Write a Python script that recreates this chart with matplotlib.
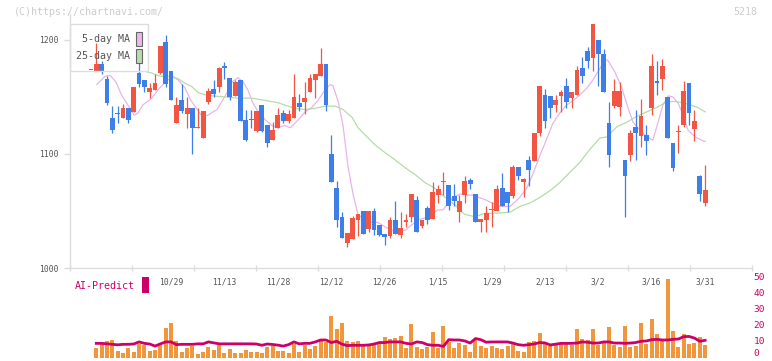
import numpy as np
import matplotlib
matplotlib.use("Agg")
import matplotlib.pyplot as plt
from matplotlib import patches, transforms

# daily prices, oldest first
opens = [1174, 1173, 1179, 1166, 1132, 1136, 1132, 1140, 1137, 1171,
         1165, 1154, 1156, 1171, 1198, 1173, 1127, 1147, 1135, 1140,
         1123, 1114, 1146, 1157, 1159, 1177, 1167, 1151, 1165, 1130,
         1131, 1120, 1143, 1125, 1112, 1123, 1136, 1129, 1132, 1145,
         1146, 1154, 1165, 1168, 1179, 1100, 1070, 1045, 1022, 1025,
         1042, 1050, 1034, 1050, 1038, 1030, 1028, 1042, 1029, 1040,
         1045, 1060, 1037, 1053, 1043, 1064, 1075, 1073, 1063, 1049,
         1064, 1077, 1065, 1040, 1042, 1051, 1050, 1070, 1067, 1063,
         1089, 1075, 1095, 1094, 1118, 1152, 1151, 1143, 1151, 1160,
         1149, 1152, 1175, 1190, 1184, 1200, 1188, 1127, 1142, 1141,
         1095, 1099, 1124, 1116, 1117, 1140, 1164, 1166, 1150, 1110,
         1119, 1125, 1162, 1122, 1081, 1057]
closes = [1174, 1179, 1172, 1145, 1121, 1135, 1140, 1130, 1159, 1161,
          1159, 1158, 1162, 1195, 1161, 1147, 1143, 1138, 1140, 1123,
          1124, 1138, 1155, 1153, 1175, 1175, 1150, 1163, 1129, 1112,
          1130, 1138, 1120, 1110, 1121, 1134, 1129, 1135, 1150, 1141,
          1149, 1167, 1170, 1179, 1143, 1075, 1042, 1026, 1031, 1044,
          1047, 1030, 1050, 1033, 1029, 1027, 1042, 1030, 1035, 1042,
          1065, 1032, 1042, 1042, 1067, 1069, 1076, 1054, 1059, 1059,
          1076, 1074, 1040, 1043, 1048, 1052, 1069, 1054, 1057, 1089,
          1081, 1078, 1086, 1118, 1160, 1129, 1140, 1147, 1154, 1146,
          1154, 1174, 1168, 1182, 1214, 1188, 1154, 1099, 1155, 1155,
          1081, 1118, 1118, 1133, 1111, 1177, 1162, 1177, 1114, 1088,
          1120, 1155, 1136, 1129, 1065, 1068]
highs = [1174, 1197, 1182, 1168, 1142, 1142, 1144, 1140, 1159, 1181,
         1165, 1162, 1170, 1195, 1204, 1173, 1150, 1161, 1150, 1140,
         1140, 1138, 1158, 1165, 1176, 1181, 1167, 1165, 1165, 1139,
         1139, 1138, 1143, 1125, 1128, 1140, 1139, 1139, 1170, 1153,
         1163, 1170, 1170, 1193, 1179, 1117, 1076, 1049, 1031, 1046,
         1047, 1050, 1050, 1053, 1038, 1030, 1045, 1059, 1049, 1047,
         1065, 1063, 1042, 1054, 1075, 1073, 1084, 1073, 1074, 1064,
         1081, 1079, 1065, 1043, 1054, 1058, 1073, 1083, 1067, 1090,
         1089, 1079, 1098, 1118, 1160, 1157, 1151, 1152, 1156, 1167,
         1154, 1177, 1185, 1194, 1214, 1200, 1192, 1146, 1166, 1163,
         1095, 1121, 1139, 1148, 1125, 1188, 1182, 1183, 1150, 1110,
         1125, 1164, 1162, 1139, 1082, 1090]
lows = [1174, 1173, 1170, 1143, 1118, 1127, 1132, 1127, 1137, 1159,
        1154, 1149, 1156, 1170, 1159, 1147, 1127, 1136, 1123, 1100,
        1123, 1114, 1144, 1150, 1154, 1166, 1147, 1151, 1129, 1111,
        1123, 1119, 1119, 1106, 1112, 1123, 1127, 1127, 1132, 1138,
        1135, 1154, 1149, 1168, 1138, 1075, 1036, 1026, 1018, 1025,
        1028, 1030, 1032, 1029, 1028, 1020, 1026, 1030, 1026, 1036,
        1040, 1032, 1035, 1039, 1043, 1057, 1064, 1051, 1054, 1040,
        1057, 1069, 1040, 1032, 1032, 1036, 1050, 1054, 1049, 1061,
        1077, 1062, 1072, 1094, 1116, 1123, 1132, 1137, 1137, 1140,
        1140, 1152, 1162, 1175, 1173, 1160, 1154, 1089, 1140, 1133,
        1045, 1094, 1095, 1106, 1099, 1134, 1152, 1156, 1114, 1085,
        1101, 1124, 1125, 1111, 1059, 1054]

# volume and AI-Predict start on the second day
volume = [6.4, 8.9, 10.8, 11.4, 4.8, 3.3, 6.4, 3.9, 8.9, 8.3,
          4.8, 5.2, 8.3, 18.9, 22.2, 10.8, 3.9, 6.4, 7.7, 2.7,
          3.9, 7.1, 5.2, 8.9, 3.3, 5.8, 3.3, 3.3, 5.2, 3.9,
          3.9, 3.3, 7.1, 7.7, 4.6, 4.6, 3.3, 8.9, 3.9, 8.3,
          5.8, 7.7, 10.8, 10.2, 26.6, 18.3, 22.2, 10.8, 10.2, 10.8,
          7.7, 7.7, 8.3, 8.9, 13.3, 12.0, 12.7, 13.9, 6.4, 21.4,
          7.3, 5.8, 7.3, 16.4, 6.4, 20.1, 10.4, 6.4, 9.5, 8.3,
          3.9, 11.4, 7.7, 6.4, 7.7, 6.4, 5.8, 7.7, 8.9, 4.6,
          3.9, 10.2, 10.8, 15.8, 8.9, 7.7, 8.3, 8.9, 8.9, 8.3,
          18.3, 12.0, 11.4, 18.3, 8.3, 9.5, 19.5, 8.3, 7.1, 20.1,
          7.1, 7.7, 22.0, 8.9, 24.5, 15.1, 12.0, 49.4, 17.0, 7.1,
          15.1, 8.9, 9.5, 13.3, 8.3]
ai_predict = [9.3, 9.3, 9.0, 8.7, 8.4, 8.7, 8.7, 8.9, 10.2, 9.3,
              8.9, 7.6, 9.0, 10.2, 10.2, 8.5, 8.7, 8.7, 8.7, 9.0,
              9.0, 10.2, 9.6, 9.0, 9.0, 9.0, 9.0, 9.0, 9.0, 9.0,
              8.9, 8.1, 8.9, 8.6, 8.2, 7.6, 8.5, 10.2, 9.0, 9.3,
              9.3, 10.2, 11.4, 11.4, 9.8, 10.6, 8.8, 7.9, 8.1, 8.1,
              8.1, 8.3, 8.9, 9.8, 9.8, 10.2, 10.2, 10.2, 9.3, 8.9,
              10.2, 9.8, 8.5, 8.1, 8.1, 7.4, 11.6, 11.4, 11.4, 10.8,
              9.5, 12.3, 11.6, 10.0, 10.2, 10.2, 10.2, 10.2, 9.5, 8.5,
              8.1, 8.5, 8.9, 9.8, 9.6, 8.3, 8.8, 9.3, 9.3, 9.3,
              9.5, 10.2, 10.0, 9.5, 9.5, 10.2, 10.2, 9.5, 9.5, 9.3,
              9.5, 9.8, 10.6, 10.8, 11.6, 11.8, 11.4, 11.4, 11.8, 12.0,
              13.5, 13.6, 12.6, 10.6, 11.2]

# moving averages (day index, price)
ma5_day = [1.1, 2.6, 3.6, 4.7, 5.7, 6.9, 8.1, 8.8, 9.7, 11.4, 12.5, 13.9, 15.2, 16.3,
           17.6, 18.7, 19.9, 20.8, 21.9, 23.6, 24.5, 25.5, 26.4, 27.5, 28.5, 29.4, 30.3,
           31.3, 32.6, 33.9, 35.0, 36.3, 37.3, 38.2, 38.8, 40.1, 41.4, 42.5, 43.8, 44.8,
           45.3, 46.3, 47.2, 48.1, 49.1, 50.0, 51.3, 52.6, 53.7, 55.1, 56.4, 57.5, 58.8,
           60.1, 61.2, 62.5, 63.9, 65.0, 65.9, 66.9, 67.8, 69.1, 70.4, 71.3, 72.5, 73.8,
           75.1, 76.6, 78.5, 80.3, 81.6, 82.8, 84.1, 85.4, 86.5, 87.8, 89.1, 90.3, 91.6,
           92.9, 94.0, 95.3, 96.3, 96.8, 98.1, 99.4, 100.6, 101.5, 102.4, 103.4, 104.3,
           105.2, 106.2, 107.1, 108.1, 109.0, 109.9, 110.9, 111.8, 113.1, 114.4, 115.0]
ma5 = [1161, 1168, 1169, 1163, 1152, 1143, 1134, 1136, 1143, 1149, 1156, 1163, 1168, 1165,
       1158, 1147, 1139, 1133, 1134, 1139, 1146, 1154, 1163, 1167, 1163, 1156, 1145,
       1137, 1130, 1125, 1123, 1125, 1123, 1127, 1130, 1137, 1141, 1147, 1156, 1161,
       1160, 1146, 1125, 1090, 1064, 1047, 1042, 1040, 1040, 1036, 1033, 1033, 1033,
       1038, 1042, 1044, 1048, 1051, 1051, 1057, 1062, 1065, 1064, 1064, 1062, 1060,
       1057, 1054, 1054, 1062, 1070, 1083, 1099, 1114, 1127, 1136, 1143, 1147, 1152,
       1158, 1165, 1175, 1183, 1182, 1172, 1158, 1140, 1128, 1123, 1118, 1115,
       1112, 1128, 1143, 1151, 1150, 1145, 1134, 1121, 1115, 1112, 1111]
ma25_day = [10.5, 11.4, 12.4, 13.5, 15.2, 16.3, 17.6, 18.9, 20.0, 21.3, 22.7, 25.1, 27.5,
            30.1, 32.6, 35.0, 36.9, 38.2, 40.1, 41.9, 43.8, 45.7, 47.2, 48.9, 50.0, 51.7,
            53.2, 55.1, 56.9, 58.8, 60.7, 62.5, 64.4, 66.3, 68.2, 70.0, 71.9, 73.8, 76.0,
            78.5, 80.3, 82.2, 84.1, 86.0, 87.8, 89.7, 91.6, 93.4, 95.3, 96.6, 98.5, 100.4,
            102.2, 104.1, 106.0, 107.9, 109.7, 111.6, 113.5, 115.0]
ma25 = [1172, 1171, 1169, 1168, 1168, 1166, 1162, 1159, 1154, 1152, 1151, 1150, 1149,
        1149, 1147, 1145, 1142, 1140, 1139, 1140, 1142, 1142, 1139, 1132, 1123, 1115,
        1108, 1101, 1095, 1088, 1082, 1075, 1070, 1062, 1055, 1047, 1045, 1048, 1048,
        1049, 1054, 1057, 1062, 1068, 1075, 1084, 1093, 1104, 1114, 1115, 1124, 1128,
        1133, 1137, 1141, 1146, 1146, 1144, 1141, 1137]

date_labels = ["10/29", "11/13", "11/28", "12/12", "12/26", "1/15",
               "1/29", "2/13", "3/2", "3/16", "3/31"]
date_days = [15, 25, 35, 45, 55, 65, 75, 85, 95, 105, 115]
vol_ticks = [0, 10, 20, 30, 40, 50]

W, H = 772, 361
RED, BLUE = "#f25541", "#3d7ee9"
GRID = "#dddddd"
MAG = "#cc0066"
MONO = "DejaVu Sans Mono"


def fx(px):
    return px / W


def fy(py):
    return 1 - py / H


fig = plt.figure(figsize=(W / 100, H / 100), dpi=100)
fig.patch.set_facecolor("white")

# price panel
ax = fig.add_axes([fx(70), fy(268), fx(752) - fx(70), fy(14) - fy(268)])
ax.set_xlim(-3.93, 123.78)
ax.set_ylim(1000, 1222.8)
ax.patch.set_alpha(0)

days = np.arange(len(opens))
o = np.array(opens, float)
c = np.array(closes, float)
up = c >= o
colors = np.where(up, RED, BLUE)

ax.plot(ma5_day, ma5, color="#e8b4ec", lw=0.9, zorder=1)
ax.plot(ma25_day, ma25, color="#b4dca8", lw=0.9, zorder=1)

ax.vlines(days, lows, highs, colors=colors, lw=0.9, zorder=2)
body_low = np.minimum(o, c)
body_h = np.maximum(np.abs(c - o), 0.9)
ax.bar(days, body_h, bottom=body_low, width=0.9, color=colors, linewidth=0, zorder=3)

for side in ["top", "right"]:
    ax.spines[side].set_visible(False)
for side in ["left", "bottom"]:
    ax.spines[side].set_color(GRID)
    ax.spines[side].set_linewidth(1.0)

ax.set_yticks([1000, 1100, 1200])
ax.set_yticklabels(["1000", "1100", "1200"])
ax.tick_params(axis="y", direction="out", length=4, width=1.0, color=GRID,
               pad=4, labelsize=5.8, labelcolor="#555555")
for t in ax.get_yticklabels():
    t.set_fontfamily(MONO)

ax.set_xticks(np.linspace(-3.93, 123.78, 12))
ax.tick_params(axis="x", direction="inout", length=5, width=1.0, color=GRID,
               labelbottom=False)

blend = transforms.blended_transform_factory(ax.transData, fig.transFigure)
for d, lab in zip(date_days, date_labels):
    ax.text(d, fy(282), lab, transform=blend, ha="center", va="center",
            fontsize=5.8, color="#555555", family=MONO, clip_on=False)

# legend box
fig.add_artist(patches.Rectangle((fx(70), fy(71)), fx(148) - fx(70), fy(24) - fy(71),
                                 transform=fig.transFigure, fill=False,
                                 edgecolor=GRID, lw=1.0))
fig.text(fx(130), fy(39), "5-day MA", ha="right", va="center", fontsize=7.2,
         color="#555555", family=MONO)
fig.text(fx(130), fy(56), "25-day MA", ha="right", va="center", fontsize=7.2,
         color="#555555", family=MONO)
fig.add_artist(patches.Rectangle((fx(136), fy(46)), fx(142) - fx(136), fy(32) - fy(46),
                                 transform=fig.transFigure, facecolor="#ecb8ec",
                                 edgecolor="#666666", lw=0.8))
fig.add_artist(patches.Rectangle((fx(136), fy(63)), fx(142) - fx(136), fy(49) - fy(63),
                                 transform=fig.transFigure, facecolor="#b8dcb0",
                                 edgecolor="#666666", lw=0.8))

fig.text(fx(14), fy(12), "(C)https://chartnavi.com/", ha="left", va="center",
         fontsize=7.2, color="#cccccc", family=MONO)
fig.text(fx(757), fy(12), "5218", ha="right", va="center",
         fontsize=7.2, color="#cccccc", family=MONO)

# volume / AI-Predict panel
ax2 = fig.add_axes([fx(70), fy(358.3), fx(752) - fx(70), fy(278) - fy(358.3)])
ax2.set_xlim(-3.93, 123.78)
ax2.set_ylim(0, 50)
ax2.patch.set_alpha(0)
vdays = np.arange(1, len(volume) + 1)
ax2.bar(vdays, volume, width=0.75, color="#f0963c", linewidth=0, zorder=2)
ax2.plot(vdays, ai_predict, color=MAG, lw=2.0, zorder=3)
for s in ax2.spines.values():
    s.set_visible(False)
ax2.set_xticks([])
ax2.set_yticks([])

# right-hand scale; the 0 is lifted a few pixels so it stays inside the figure
base_tr = transforms.blended_transform_factory(ax2.transAxes, ax2.transData)
for v in vol_ticks:
    lift = 5 if v == 0 else 1
    tr = transforms.offset_copy(base_tr, fig=fig, x=1.5, y=lift, units="dots")
    ax2.text(1.0, v, str(v), transform=tr, ha="left", va="center",
             fontsize=6.8, color=MAG, family=MONO, clip_on=False)

fig.text(fx(135), fy(286), "AI-Predict", ha="right", va="center", fontsize=7.2,
         color=MAG, family=MONO)
fig.add_artist(patches.Rectangle((fx(142), fy(293)), fx(149) - fx(142), fy(277) - fy(293),
                                 transform=fig.transFigure, facecolor=MAG,
                                 edgecolor="none"))

fig.savefig("out.png", dpi=100, facecolor="white")
